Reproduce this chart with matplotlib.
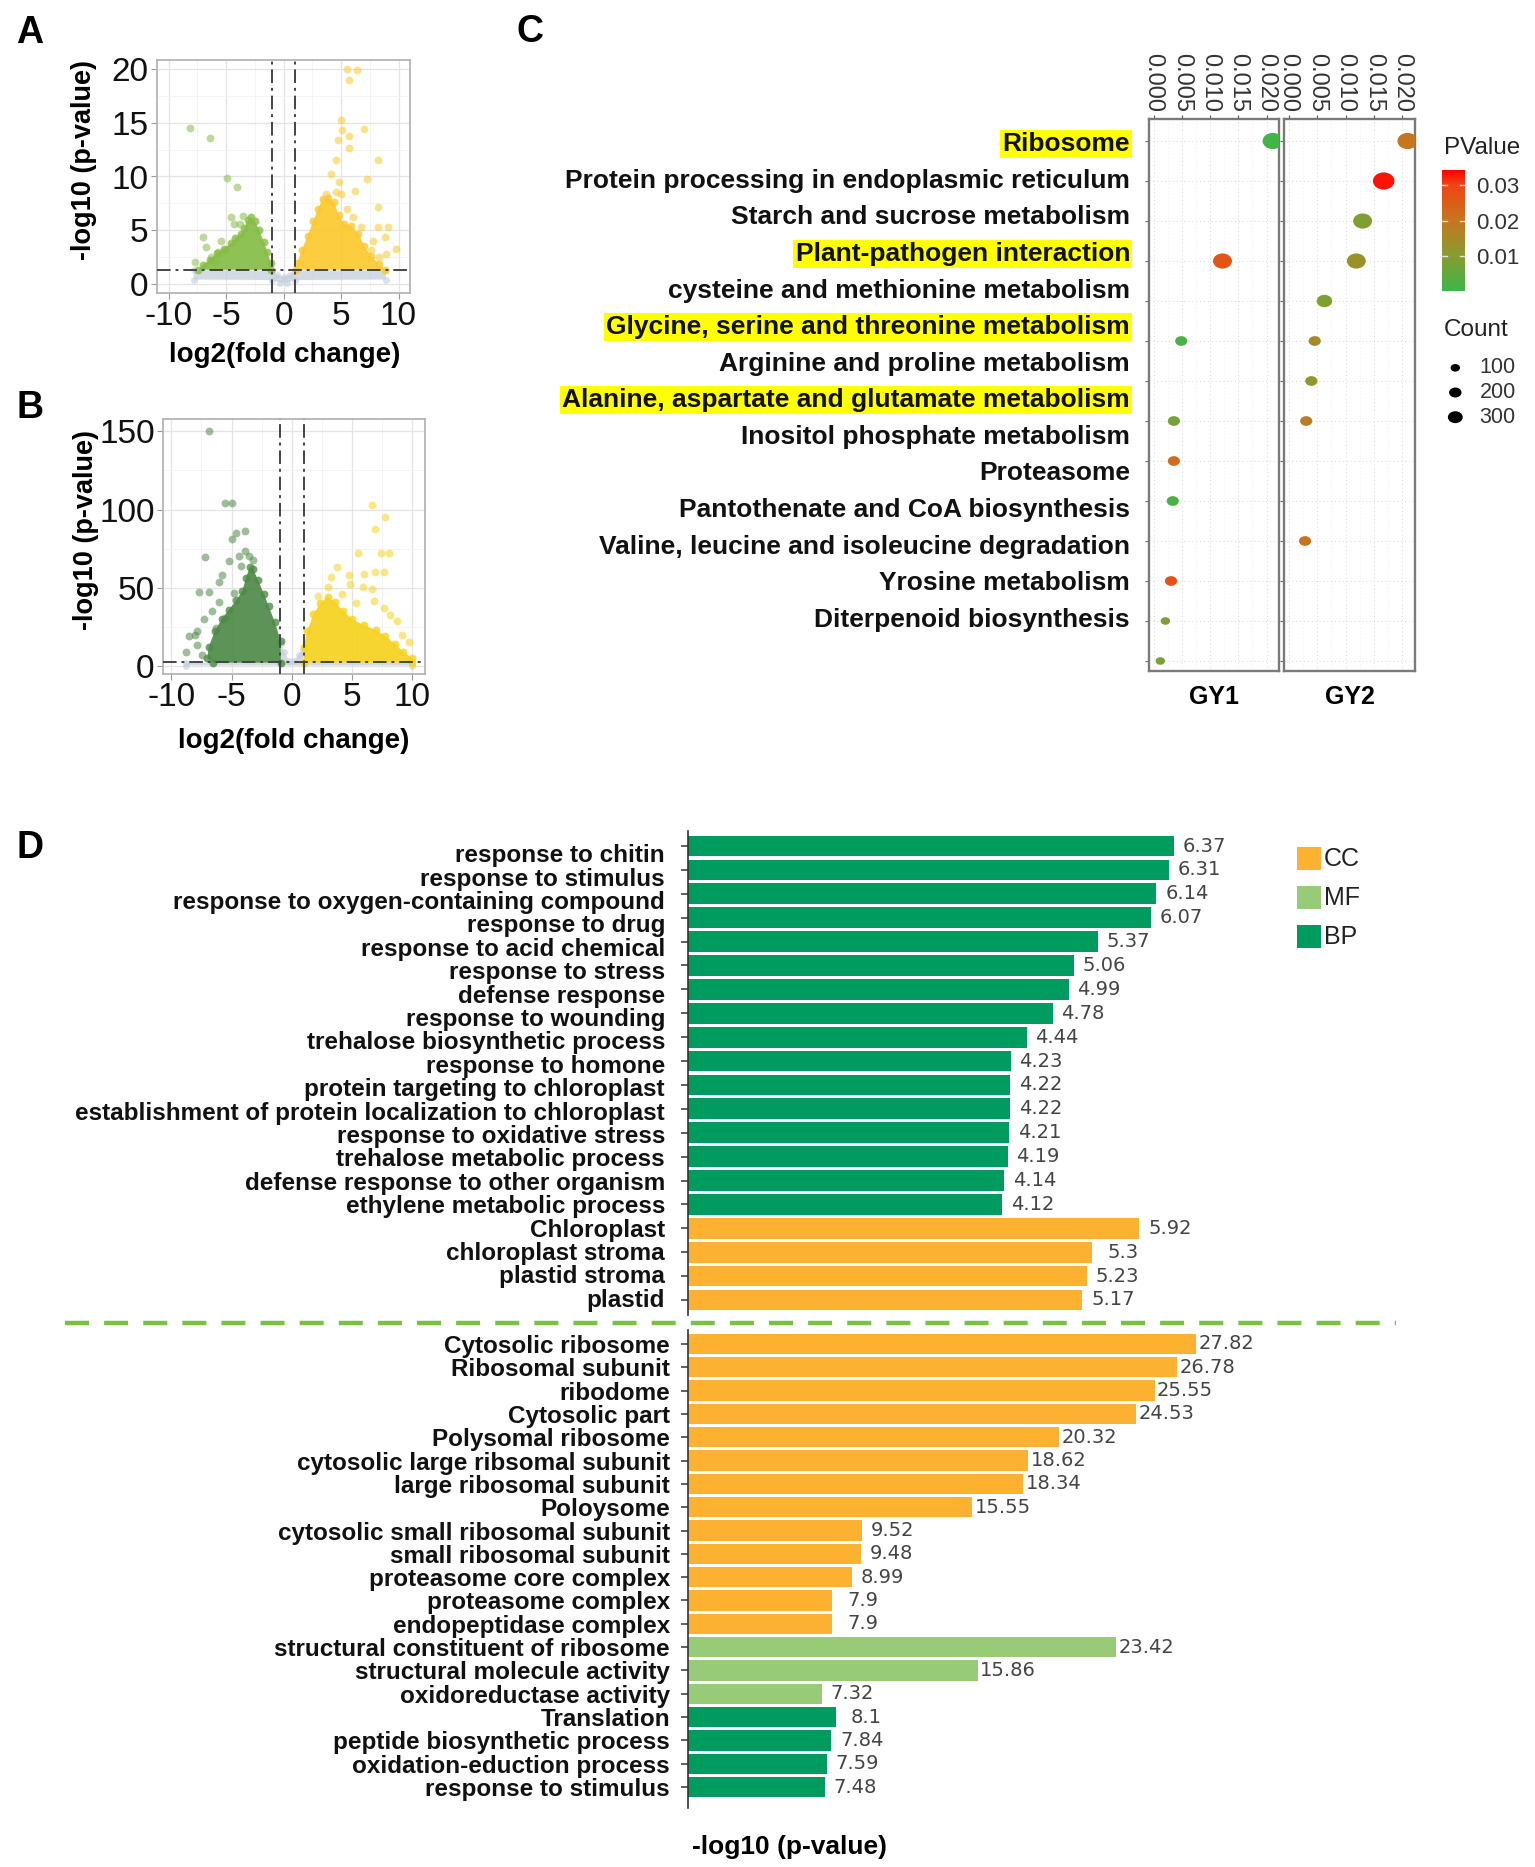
import numpy as np
import matplotlib
matplotlib.use("Agg")
import matplotlib.pyplot as plt
from matplotlib.colors import LinearSegmentedColormap, Normalize
from matplotlib.path import Path
from matplotlib.patches import Rectangle
from matplotlib.lines import Line2D

plt.rcParams['font.family'] = ['Liberation Sans', 'DejaVu Sans']
plt.rcParams['axes.unicode_minus'] = False

# ======================= DATA =======================
# ---- Panel A volcano (GY1) : outlier points
A_dn_x = [-8.16, -6.36, -4.89, -4.03, -4.55, -4.32, -6.96, -6.76, -7.68, -6.3, -5.7, -5.1, -6.0, -3.5, -3.8, -5.4]
A_dn_y = [14.5, 13.55, 9.83, 9.05, 6.26, 5.64, 4.35, 3.48, 2.08, 2.54, 3.0, 3.16, 2.08, 6.3, 5.6, 4.0]
A_up_x = [5.56, 6.42, 5.7, 5.0, 5.13, 5.7, 7.0, 4.72, 4.56, 5.7, 8.2, 4.1, 4.84, 7.3, 5.0, 6.2, 8.2, 9.1,
          8.2, 8.8, 9.8, 8.9, 8.33, 7.6, 6.7, 6.0, 5.5, 4.6, 7.8, 3.7]
A_up_y = [19.97, 19.9, 18.97, 15.26, 14.3, 13.8, 14.4, 13.37, 11.5, 12.6, 11.5, 10.26, 9.5, 9.8, 8.4, 8.7, 7.2, 5.3,
          5.3, 4.4, 3.3, 2.84, 2.53, 3.16, 5.3, 6.2, 7.0, 8.6, 4.0, 8.4]
# outlines of the dense point clouds
A_dn_core_x = [-1.05, -1.1, -1.4, -1.7, -2.1, -2.5, -2.8, -3.1, -3.4, -3.7, -4.2, -4.6, -5.2, -5.8, -6.4, -7.0, -7.4]
A_dn_core_y = [1.35, 2.0, 3.0, 3.9, 5.0, 5.9, 6.2, 6.0, 5.2, 4.7, 4.3, 3.8, 3.3, 2.9, 2.3, 1.8, 1.35]
A_up_core_x = [1.1, 1.2, 1.6, 2.1, 2.6, 3.0, 3.4, 3.9, 4.4, 4.8, 5.3, 5.9, 6.5, 7.0, 7.6, 8.3, 8.8]
A_up_core_y = [1.35, 2.0, 3.2, 4.5, 5.9, 7.0, 7.9, 8.0, 7.6, 6.4, 5.6, 5.4, 4.7, 3.6, 2.6, 1.9, 1.35]
A_ns_core_x = [-7.8, -7.8, -1.0, -0.6, 0.0, 0.6, 1.0, 8.9, 8.9, 1.0, 0.3, -0.3, -1.0]
A_ns_core_y = [0.45, 1.3, 1.3, 0.9, 0.7, 0.9, 1.3, 1.3, 0.45, 0.4, 0.15, 0.15, 0.4]

# ---- Panel B volcano (GY2)
B_dn_x = [-6.87, -5.5, -4.94, -4.66, -3.84, -4.94, -7.18, -5.18, -3.84, -3.57, -4.4, -6.05, -7.7, -6.87, -4.8,
          -6.05, -8.5, -7.84, -7.84, -7.43, -8.79, -6.3, -5.5, -7.3, -8.0, -6.6, -5.8, -4.2, -3.2]
B_dn_y = [150.2, 103.9, 103.9, 85.1, 86.2, 80.9, 69.6, 66.9, 73.4, 70.3, 70.3, 53.9, 47.4, 47.4, 46.3,
          40.8, 18.9, 22.1, 13.4, 6.8, 8.7, 24.0, 30.6, 30.0, 20.0, 35.0, 58.0, 64.0, 68.0]
B_up_x = [6.7, 7.78, 6.96, 5.5, 7.4, 8.1, 3.8, 4.8, 6.0, 6.96, 7.65, 5.9, 6.7, 7.65, 8.2, 8.75, 9.8, 6.85,
          4.9, 3.3, 3.0, 2.2, 4.2, 5.4, 9.2]
B_up_y = [102.6, 95.0, 87.3, 72.1, 72.1, 72.1, 63.3, 57.9, 59.0, 60.1, 60.1, 50.2, 49.1, 37.1, 32.8, 28.4, 15.3, 41.5,
          52.4, 56.8, 50.2, 45.0, 46.0, 40.0, 20.0]
B_dn_core_x = [-0.9, -0.9, -1.4, -1.9, -2.3, -2.8, -3.2, -3.5, -3.8, -4.1, -4.6, -5.2, -5.8, -6.4, -6.9, -7.0, -6.5]
B_dn_core_y = [2, 16, 28, 38, 46, 55, 62, 63, 56, 48, 42, 36, 30, 22, 12, 5, 2]
B_up_core_x = [1.0, 1.0, 1.3, 1.8, 2.4, 3.0, 3.6, 4.3, 5.0, 6.0, 7.0, 7.8, 8.6, 9.3, 10.0, 10.0]
B_up_core_y = [2, 12, 22, 33, 40, 44, 41, 35, 30, 26, 23, 19, 14, 9, 5, 2]
B_ns_core_x = [-8.8, -8.8, -1.0, -0.9, -0.6, -0.2, 0.2, 0.6, 0.95, 1.0, 10.0, 10.0]
B_ns_core_y = [0.2, 2.0, 2.0, 14, 9, 3, 3, 7, 10, 2.0, 2.0, 0.2]

# ---- Panel C KEGG bubble chart
kegg_terms = ['Ribosome', 'Protein processing in endoplasmic reticulum', 'Starch and sucrose metabolism',
              'Plant-pathogen interaction', 'cysteine and methionine metabolism',
              'Glycine, serine and threonine metabolism', 'Arginine and proline metabolism',
              'Alanine, aspartate and glutamate metabolism', 'Inositol phosphate metabolism', 'Proteasome',
              'Pantothenate and CoA biosynthesis', 'Valine, leucine and isoleucine degradation',
              'Yrosine metabolism', 'Diterpenoid biosynthesis']
kegg_highlight = [True, False, False, True, False, True, False, True, False, False, False, False, False, False]
gy1_row = [0, 3, 5, 7, 8, 9, 11, 12, 13]
gy1_ratio = [0.0211, 0.0122, 0.0049, 0.0036, 0.0036, 0.0034, 0.0031, 0.0021, 0.0012]
gy1_pval = [0.001, 0.027, 0.002, 0.008, 0.022, 0.002, 0.028, 0.009, 0.008]
gy1_count = [590, 510, 190, 190, 190, 190, 190, 100, 100]
gy2_row = [0, 1, 2, 3, 4, 5, 6, 7, 10]
gy2_ratio = [0.0209, 0.0167, 0.0130, 0.0119, 0.0063, 0.0046, 0.0040, 0.0031, 0.0029]
gy2_pval = [0.020, 0.033, 0.009, 0.013, 0.009, 0.015, 0.012, 0.018, 0.021]
gy2_count = [590, 670, 510, 510, 330, 190, 190, 190, 190]
ratio_ticks = [0.0, 0.005, 0.010, 0.015, 0.020]
ratio_ticklabels = ['0.000', '0.005', '0.010', '0.015', '0.020']
pval_ticks = [0.01, 0.02, 0.03]
count_breaks = [100, 200, 300]
groups = ['GY1', 'GY2']

# ---- Panel D GO enrichment bars
top_terms = ['response to chitin', 'response to stimulus', 'response to oxygen-containing compound',
             'response to drug', 'response to acid chemical', 'response to stress', 'defense response',
             'response to wounding', 'trehalose biosynthetic process', 'response to homone',
             'protein targeting to chloroplast', 'establishment of protein localization to chloroplast',
             'response to oxidative stress', 'trehalose metabolic process', 'defense response to other organism',
             'ethylene metabolic process', 'Chloroplast', 'chloroplast stroma', 'plastid stroma', 'plastid']
top_vals = [6.37, 6.31, 6.14, 6.07, 5.37, 5.06, 4.99, 4.78, 4.44, 4.23, 4.22, 4.22, 4.21, 4.19, 4.14, 4.12,
            5.92, 5.3, 5.23, 5.17]
top_cats = ['BP'] * 16 + ['CC'] * 4
bot_terms = ['Cytosolic ribosome', 'Ribosomal subunit', 'ribodome', 'Cytosolic part', 'Polysomal ribosome',
             'cytosolic large ribsomal subunit', 'large ribosomal subunit', 'Poloysome',
             'cytosolic small ribosomal subunit', 'small ribosomal subunit', 'proteasome core complex',
             'proteasome complex', 'endopeptidase complex', 'structural constituent of ribosome',
             'structural molecule activity', 'oxidoreductase activity', 'Translation',
             'peptide biosynthetic process', 'oxidation-eduction process', 'response to stimulus']
bot_vals = [27.82, 26.78, 25.55, 24.53, 20.32, 18.62, 18.34, 15.55, 9.52, 9.48, 8.99, 7.9, 7.9, 23.42,
            15.86, 7.32, 8.1, 7.84, 7.59, 7.48]
bot_cats = ['CC'] * 13 + ['MF'] * 3 + ['BP'] * 4
legend_cats = ['CC', 'MF', 'BP']

# ======================= STYLE / LAYOUT =======================
W, H, DPI = 1535, 1867, 100
fig = plt.figure(figsize=(W / DPI, H / DPI), dpi=DPI)
fig.patch.set_facecolor('white')


def box(x0, y0, x1, y1):
    return [x0 / W, 1 - y1 / H, (x1 - x0) / W, (y1 - y0) / H]


def fx(x):
    return x / W


def fy(y):
    return 1 - y / H


GRAY = '#C3CEDA'


def volcano(rect, xlim, ylim, yticks, yminor, thr, ns, dn_core, up_core, dn_pts, up_pts,
            dn_col, up_col):
    ax = fig.add_axes(rect)
    ax.set_xlim(*xlim)
    ax.set_ylim(*ylim)
    ax.set_xticks([-10, -5, 0, 5, 10])
    ax.set_xticks([-7.5, -2.5, 2.5, 7.5], minor=True)
    ax.set_yticks(yticks)
    ax.set_yticks(yminor, minor=True)
    ax.grid(True, which='major', color='#E4E4E4', lw=0.9)
    ax.grid(True, which='minor', color='#F2F2F2', lw=0.6)
    ax.set_axisbelow(True)
    ax.fill(ns[0], ns[1], color=GRAY, alpha=0.75, lw=0, zorder=2)
    ax.scatter(ns[0], ns[1], s=25, color=GRAY, alpha=0.6, lw=0, zorder=2)
    for core, pts, col in ((dn_core, dn_pts, dn_col), (up_core, up_pts, up_col)):
        ax.fill(core[0], core[1], color=col, alpha=0.92, lw=0, zorder=3)
        ax.scatter(core[0], core[1], s=32, color=col, alpha=0.8, lw=0, zorder=3)
        ax.scatter(pts[0], pts[1], s=32, color=col, alpha=0.55, lw=0, zorder=4)
    dd = (0, (7, 2.5, 1.5, 2.5))
    ax.axvline(-1, color='#444444', lw=1.4, ls=dd, zorder=5)
    ax.axvline(1, color='#444444', lw=1.4, ls=dd, zorder=5)
    ax.axhline(thr, color='#444444', lw=1.4, ls=dd, zorder=5)
    for sp in ax.spines.values():
        sp.set_color('#B5B5B5')
        sp.set_linewidth(1.3)
    ax.tick_params(which='major', labelsize=24, length=4, color='#999999', labelcolor='#111111', pad=2)
    ax.tick_params(which='minor', length=0)
    return ax


axA = volcano(box(157, 60, 410, 293), (-11, 11), (-0.8, 20.8), [0, 5, 10, 15, 20], [2.5, 7.5, 12.5, 17.5], 1.3,
              (A_ns_core_x, A_ns_core_y), (A_dn_core_x, A_dn_core_y), (A_up_core_x, A_up_core_y),
              (A_dn_x, A_dn_y), (A_up_x, A_up_y), '#86BD45', '#FBC92E')
fig.text(fx(84), fy(160), '-log10 (p-value)', rotation=90, ha='center', va='center', fontsize=19.5,
         fontweight='bold')
fig.text(fx(285), fy(355), 'log2(fold change)', ha='center', va='center', fontsize=20, fontweight='bold')

axB = volcano(box(163, 419, 425, 674), (-10.7, 11.1), (-5.2, 157.9), [0, 50, 100, 150], [25, 75, 125], 2.5,
              (B_ns_core_x, B_ns_core_y), (B_dn_core_x, B_dn_core_y), (B_up_core_x, B_up_core_y),
              (B_dn_x, B_dn_y), (B_up_x, B_up_y), '#4E8A47', '#F7D21E')
fig.text(fx(86), fy(530), '-log10 (p-value)', rotation=90, ha='center', va='center', fontsize=19.5,
         fontweight='bold')
fig.text(fx(294), fy(741), 'log2(fold change)', ha='center', va='center', fontsize=20, fontweight='bold')

# ---------------- Panel C ----------------
cmap = LinearSegmentedColormap.from_list('pv', [(0.0, '#3DB64A'), (0.3, '#8A9B2F'), (0.6, '#C9741F'),
                                                (0.88, '#EF4513'), (1.0, '#FF0000')])
norm = Normalize(vmin=0.0002, vmax=0.0343)
uc = Path.unit_circle()
ell = Path(uc.vertices * np.array([1.25, 1.0]), uc.codes)


def count_to_s(c):
    d = 1.35 * np.sqrt(13 + 0.36 * np.asarray(c, dtype=float))
    return (0.72 * d) ** 2


rows_n = len(kegg_terms)
c_axes = [fig.add_axes(box(1149, 119, 1279, 671)), fig.add_axes(box(1284, 119, 1415, 671))]
for ax, rows, ratio, pv, cnt, name in ((c_axes[0], gy1_row, gy1_ratio, gy1_pval, gy1_count, groups[0]),
                                       (c_axes[1], gy2_row, gy2_ratio, gy2_pval, gy2_count, groups[1])):
    ax.set_xlim(-0.0008, 0.0222)
    ax.set_ylim(13.25, -0.55)
    ax.set_yticks(range(rows_n))
    ax.set_yticklabels([])
    ax.xaxis.tick_top()
    ax.set_xticks(ratio_ticks)
    ax.set_xticklabels(ratio_ticklabels, rotation=270, fontsize=17, color='#333333')
    ax.set_xticks([0.0025, 0.0075, 0.0125, 0.0175], minor=True)
    ax.tick_params(axis='x', which='major', length=3, color='#555555', pad=2)
    ax.tick_params(axis='x', which='minor', length=0)
    ax.tick_params(axis='y', length=3, color='#666666')
    ax.grid(True, which='major', color='#D8D8D8', lw=0.7, ls=(0, (1, 3)))
    ax.grid(True, which='minor', axis='x', color='#E8E8E8', lw=0.6, ls=(0, (1, 3)))
    ax.set_axisbelow(True)
    ax.scatter(ratio, rows, s=count_to_s(cnt), c=pv, cmap=cmap, norm=norm, marker=ell, lw=0, zorder=3)
    for sp in ax.spines.values():
        sp.set_color('#7A7A7A')
        sp.set_linewidth(1.7)
    ax.text(0.5, -0.047, name, transform=ax.transAxes, ha='center', va='center', fontsize=18,
            fontweight='bold')

axl = fig.add_axes(box(540, 126, 1130, 638))
axl.set_xlim(0, 1)
axl.set_ylim(rows_n - 0.5, -0.5)
axl.axis('off')
for i, (term, hl) in enumerate(zip(kegg_terms, kegg_highlight)):
    kw = dict(bbox=dict(facecolor='#FFFF00', edgecolor='none', pad=1.5)) if hl else {}
    axl.text(1, i, term, ha='right', va='center', fontsize=19, fontweight='bold', color='#111111', **kw)

# PValue colourbar
fig.text(fx(1444), fy(148), 'PValue', ha='left', va='center', fontsize=17.5, color='#222222')
cax = fig.add_axes(box(1442, 170, 1465, 291))
grad = np.linspace(norm.vmin, norm.vmax, 256)[:, None]
cax.imshow(grad, aspect='auto', cmap=cmap, norm=norm, origin='lower',
           extent=[0, 1, norm.vmin, norm.vmax])
cax.set_xlim(0, 1)
cax.set_ylim(norm.vmin, norm.vmax)
cax.set_xticks([])
cax.yaxis.tick_right()
cax.set_yticks(pval_ticks)
cax.set_yticklabels(['%.2f' % v for v in pval_ticks], fontsize=16, color='#333333')
cax.tick_params(length=0, pad=8)
for v in pval_ticks:
    cax.plot([0, 0.2], [v, v], color='white', lw=1, alpha=0.8)
    cax.plot([0.8, 1], [v, v], color='white', lw=1, alpha=0.8)
for sp in cax.spines.values():
    sp.set_visible(False)

# Count legend
fig.text(fx(1444), fy(330), 'Count', ha='left', va='center', fontsize=17.5, color='#222222')
lax = fig.add_axes(box(1440, 353, 1530, 432))
lax.set_xlim(0, 1)
lax.set_ylim(len(count_breaks) - 0.4, -0.6)
lax.axis('off')
lax.scatter([0.17] * len(count_breaks), range(len(count_breaks)), s=count_to_s(count_breaks), color='black',
            marker=ell, lw=0)
for i, c in enumerate(count_breaks):
    lax.text(0.44, i, str(c), ha='left', va='center', fontsize=15.5, color='#333333')

# ---------------- Panel D ----------------
cat_colors = {'CC': '#FDB130', 'MF': '#98CB78', 'BP': '#009B5E'}


def go_bars(rect, terms, vals, cats, xmax, ylim, pad, show_labels=True):
    ax = fig.add_axes(rect)
    y = np.arange(len(terms))
    ax.barh(y, vals, height=0.87, color=[cat_colors[c] for c in cats], lw=0)
    ax.set_xlim(0, xmax)
    ax.set_ylim(*ylim)
    ax.set_yticks(y)
    if show_labels:
        ax.set_yticklabels(terms, fontsize=17.5, fontweight='bold', color='#111111')
    else:
        ax.set_yticklabels([])
    ax.tick_params(axis='y', length=5, width=1.2, color='#444444', pad=pad)
    ax.set_xticks([])
    for s in ('top', 'right', 'bottom'):
        ax.spines[s].set_visible(False)
    ax.spines['left'].set_color('#333333')
    ax.spines['left'].set_linewidth(1.2)
    for yi, v in zip(y, vals):
        ax.annotate('%g' % v, xy=(v, yi), xytext=(22, 0), textcoords='offset points', ha='center',
                    va='center', fontsize=14, color='#444444', family=['DejaVu Sans'])
    ax.patch.set_alpha(0)
    return ax


# top block: bars, with the term labels set slightly tighter than the bars (as in the figure)
axD1 = go_bars(box(688, 831, 1382, 1315), top_terms, top_vals, top_cats, 9.1, (19.63, -0.63), 9,
               show_labels=False)
axDl = fig.add_axes(box(60, 844, 665, 1312))
axDl.set_xlim(0, 1)
axDl.set_ylim(len(top_terms) - 0.5, -0.5)
axDl.axis('off')
for i, t in enumerate(top_terms):
    axDl.text(1, i, t, ha='right', va='center', fontsize=17.5, fontweight='bold', color='#111111')

axD2 = go_bars(box(688, 1330, 1382, 1808), bot_terms, bot_vals, bot_cats, 38.0, (19.9, -0.6), 8)
fig.text(fx(790), fy(1847), '-log10 (p-value)', ha='center', va='center', fontsize=19, fontweight='bold')

fig.add_artist(Line2D([fx(65), fx(1396)], [fy(1323), fy(1323)], color='#79C143', lw=3.2,
                      ls=(0, (5.4, 3.4))))

for i, c in enumerate(legend_cats):
    y0 = 847 + i * 39
    fig.add_artist(Rectangle((fx(1297), fy(y0 + 23)), 24 / W, 23 / H, facecolor=cat_colors[c],
                             edgecolor='none', transform=fig.transFigure))
    fig.text(fx(1324), fy(y0 + 11.5), c, ha='left', va='center', fontsize=18, color='#222222')

# panel letters
for letter, (x, y) in zip('ABCD', [(30, 33), (30, 408), (530, 32), (30, 848)]):
    fig.text(fx(x), fy(y), letter, ha='center', va='center', fontsize=27, fontweight='bold')

fig.savefig('out.png', dpi=DPI, facecolor='white')
